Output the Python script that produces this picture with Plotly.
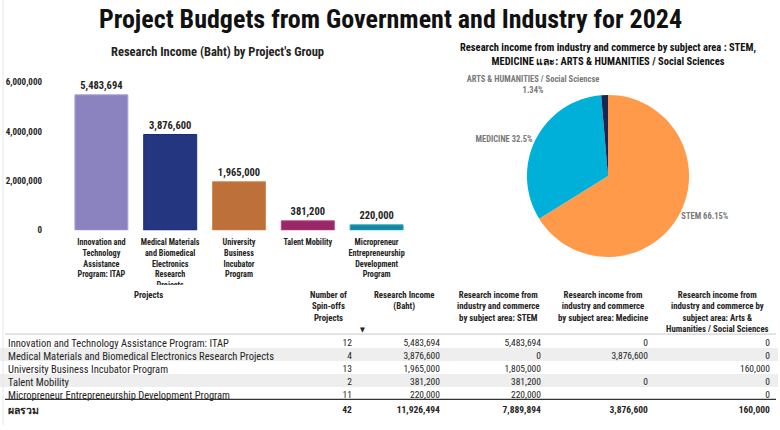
import plotly.graph_objects as go

# ---------------- data ----------------
projects = [
    "Innovation and Technology Assistance Program: ITAP",
    "Medical Materials and Biomedical Electronics Research Projects",
    "University Business Incubator Program",
    "Talent Mobility",
    "Micropreneur Entrepreneurship Development Program",
]
bar_labels = [
    "Innovation and<br>Technology<br>Assistance<br>Program: ITAP",
    "Medical Materials<br>and Biomedical<br>Electronics<br>Research<br>Projects",
    "University<br>Business<br>Incubator<br>Program",
    "Talent Mobility",
    "Micropreneur<br>Entrepreneurship<br>Development<br>Program",
]
spinoffs = [12, 4, 13, 2, 11]
income = [5483694, 3876600, 1965000, 381200, 220000]
stem = [5483694, 0, 1805000, 381200, 220000]
medicine = [0, 3876600, None, 0, None]
arts = [0, 0, 160000, 0, 0]
total_label = "ผลรวม"

subject_labels = ["STEM", "MEDICINE", "ARTS & HUMANITIES / Social Sciencse"]

bar_colors = ["#8A83BF", "#243680", "#BE703A", "#9A2868", "#0E8AA3"]
bar_line_colors = ["#ABA6D6", "#1B2C78", "#D08A55", "#B24684", "#3AA6BC"]
pie_colors = ["#FF9A4A", "#00B0D8", "#1B2552"]

table_headers = [
    "Projects",
    "Number of<br>Spin-offs<br>Projects",
    "Research Income<br>(Baht)",
    "Research income from<br>industry and commerce<br>by subject area: STEM",
    "Research income from<br>industry and commerce<br>by subject area: Medicine",
    "Research income from<br>industry and commerce by<br>subject area: Arts &<br>Humanities / Social Sciences",
]
col_widths = [297, 63, 88, 101, 107, 122]

# ---------------- helpers ----------------
def fmt(v):
    return "" if v is None else f"{v:,}"

def tot(col):
    return sum(v for v in col if v is not None)

subject_values = [tot(stem), tot(medicine), tot(arts)]
grand = sum(subject_values)
pie_text = []
for lab, v in zip(subject_labels, subject_values):
    p = f"{v / grand * 100:.2f}".rstrip("0").rstrip(".") + "%"
    pie_text.append(lab + ("<br>" if len(lab) > 20 else " ") + p)

FONT = "Roboto Condensed, Liberation Sans Narrow, DejaVu Sans Condensed, Roboto, sans-serif"
DARK = "#252423"
W, H = 780, 430

def py(px):  # pixel-from-top to paper y
    return 1 - px / H

fig = go.Figure()

# ---------------- bar chart ----------------
fig.add_trace(go.Bar(
    x=bar_labels, y=income,
    marker=dict(color=bar_colors, line=dict(color=bar_line_colors, width=1)),
    text=[f"{v:,}" for v in income], textposition="outside",
    textfont=dict(family=FONT, size=10.5, color=DARK, weight="bold"),
    cliponaxis=False, width=0.77, hoverinfo="skip",
    xaxis="x", yaxis="y", showlegend=False,
))

# ---------------- pie ----------------
fig.add_trace(go.Pie(
    labels=subject_labels, values=subject_values,
    text=pie_text, textinfo="text", textposition="outside",
    textfont=dict(family=FONT, size=8.5, color="#7A7A7A", weight="bold"),
    marker=dict(colors=pie_colors),
    sort=False, direction="clockwise", rotation=0,
    domain=dict(x=[526 / W, 690 / W], y=[py(260), py(96)]),
    showlegend=False, hoverinfo="skip",
))

# ---------------- table ----------------
rows = len(projects)
col_label = projects + [f"<b>{total_label}</b>"]
col_spin = [str(v) for v in spinoffs] + [f"<b>{tot(spinoffs)}</b>"]
col_inc = [fmt(v) for v in income] + [f"<b>{fmt(tot(income))}</b>"]
col_stem = [fmt(v) for v in stem] + [f"<b>{fmt(tot(stem))}</b>"]
col_med = [fmt(v) for v in medicine] + [f"<b>{fmt(tot(medicine))}</b>"]
col_arts = [fmt(v) for v in arts] + [f"<b>{fmt(tot(arts))}</b>"]
cols = [col_label, col_spin, col_inc, col_stem, col_med, col_arts]
row_fill = ["#FFFFFF" if i % 2 == 0 else "#EEEEEE" for i in range(rows)] + ["#FFFFFF"]
n_cols = len(cols)
table_x = [0, sum(col_widths) / W]
TABLE_TOP = 288
HEADER_H = 50

# layer 1: row bands
fig.add_trace(go.Table(
    domain=dict(x=table_x, y=[0, py(TABLE_TOP)]),
    columnwidth=col_widths,
    header=dict(values=[""] * n_cols, height=HEADER_H,
                fill=dict(color="white"), line=dict(color="white", width=0)),
    cells=dict(values=[[""] * (rows + 1)] * n_cols, height=13,
               fill=dict(color=[row_fill] * n_cols),
               line=dict(color=[row_fill] * n_cols, width=0)),
))
# layer 2: cell text
fig.add_trace(go.Table(
    domain=dict(x=table_x, y=[0, py(TABLE_TOP)]),
    columnwidth=col_widths,
    header=dict(values=[""] * n_cols, height=HEADER_H - 3.5,
                fill=dict(color="rgba(0,0,0,0)"), line=dict(color="rgba(0,0,0,0)", width=0)),
    cells=dict(values=cols,
               align=["left"] + ["right"] * (n_cols - 1),
               height=13,
               fill=dict(color="rgba(0,0,0,0)"),
               line=dict(color="rgba(0,0,0,0)", width=0),
               font=dict(family=FONT, size=[10.5] + [9.5] * (n_cols - 1), color=DARK)),
))

# header texts, centred in their columns
annotations = []
x_left = 0.0
for h, wcol in zip(table_headers, col_widths):
    annotations.append(dict(
        text=f"<b>{h}</b>", x=(x_left + wcol / 2) / W, y=py(292.5),
        xref="paper", yref="paper", showarrow=False, align="center",
        xanchor="center", yanchor="top", borderpad=0,
        font=dict(family=FONT, size=8.8, color=DARK)))
    x_left += wcol

annotations += [
    dict(text="<b>Project Budgets from Government and Industry for 2024</b>",
         x=0.5, y=py(19), xref="paper", yref="paper", showarrow=False,
         font=dict(family=FONT, size=26, color="#111111"), xanchor="center", yanchor="middle"),
    dict(text="<b>Research Income (Baht) by Project's Group</b>",
         x=217 / W, y=py(52), xref="paper", yref="paper", showarrow=False,
         font=dict(family=FONT, size=12.5, color=DARK), xanchor="center", yanchor="middle"),
    dict(text="<b>Research income from industry and commerce by subject area : STEM,<br>MEDICINE และ: ARTS & HUMANITIES / Social Sciences</b>",
         x=608 / W, y=py(55), xref="paper", yref="paper", showarrow=False,
         font=dict(family=FONT, size=10.5, color="#111111"), xanchor="center", yanchor="middle"),
    dict(text="▼", x=362 / W, y=py(334), xref="paper", yref="paper", showarrow=False,
         font=dict(size=7, color="#222222"), xanchor="center", yanchor="middle"),
]

# ---------------- layout ----------------
fig.update_layout(
    width=W, height=H,
    margin=dict(l=0, r=0, t=0, b=0),
    paper_bgcolor="white", plot_bgcolor="white",
    font=dict(family=FONT, color=DARK),
    bargap=0.23,
    xaxis=dict(domain=[67 / W, 411 / W], anchor="y", showline=False, showgrid=False,
               ticks="", ticklabelstandoff=6,
               tickfont=dict(family=FONT, size=8.2, color=DARK, weight="bold"),
               fixedrange=True),
    yaxis=dict(domain=[py(233), py(73)], anchor="x", range=[0, 6.4e6],
               dtick=2e6, tickformat=",d", showgrid=False, zeroline=False, showline=False,
               ticks="", ticklabelstandoff=24,
               tickfont=dict(family=FONT, size=9, color=DARK, weight="bold")),
    annotations=annotations,
    shapes=[
        dict(type="line", xref="paper", yref="paper", x0=5 / W, x1=776 / W,
             y0=py(338), y1=py(338), line=dict(color="#C8C8C8", width=1), layer="above"),
        dict(type="line", xref="paper", yref="paper", x0=5 / W, x1=776 / W,
             y0=py(404), y1=py(404), line=dict(color="#333333", width=1.3), layer="above"),
        dict(type="line", xref="paper", yref="paper", x0=3 / W, x1=3 / W, y0=0, y1=1,
             line=dict(color="#E6E6E6", width=1), layer="above"),
    ],
)

fig.write_html("out.html", config={"displayModeBar": False},
               post_script="document.body.style.margin='0px';")
